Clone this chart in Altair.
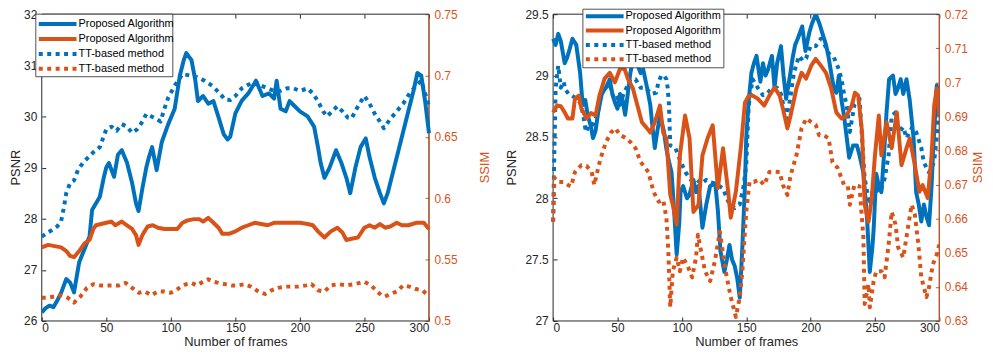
import altair as alt
import pandas as pd

FONT = "Liberation Sans"
DARK = "#262626"
BLUE = "#0072BD"
ORANGE = "#D95319"
DOT = [4, 4.5]
LW = 4

X_TICKS = [0, 50, 100, 150, 200, 250, 300]
LEGEND_LABELS = ["Proposed Algorithm", "Proposed Algorithm", "TT-based method", "TT-based method"]
LEGEND_COLORS = [BLUE, ORANGE, BLUE, ORANGE]
LEGEND_DOTTED = [False, False, True, True]

# ---------------- left panel ----------------
L_PSNR_TICKS = [26, 27, 28, 29, 30, 31, 32]
L_SSIM_TICKS = [0.5, 0.55, 0.6, 0.65, 0.7, 0.75]

L_PROP_PSNR_T = [0, 3, 6, 9, 12, 15, 19, 22, 25, 29, 33, 37, 39, 45, 48, 50, 52, 56, 59, 62, 66, 70, 73, 75, 78, 81, 83, 85.5, 89, 93, 98, 103, 107, 110, 112, 116, 119, 121, 125, 129, 133, 137, 141, 144, 146, 150, 155, 160, 166, 171, 176, 180, 182, 185, 189, 192, 196, 200, 206, 211, 214, 216, 219, 223, 228, 232, 236, 239, 243, 247, 251, 254, 258, 262, 265, 268, 272, 276, 280, 284, 288, 291, 294, 297, 300]
L_PROP_PSNR_V = [26.17, 26.25, 26.3, 26.27, 26.4, 26.55, 26.82, 26.75, 26.56, 27.15, 27.4, 27.65, 28.17, 28.43, 28.8, 29.0, 29.09, 28.82, 29.25, 29.34, 29.1, 28.7, 28.3, 28.15, 28.6, 29.0, 29.2, 29.4, 28.95, 29.5, 29.85, 30.15, 30.8, 31.1, 31.24, 31.1, 30.7, 30.3, 30.4, 30.25, 30.3, 29.98, 29.65, 29.55, 29.6, 30.06, 30.31, 30.45, 30.7, 30.4, 30.45, 30.35, 30.7, 30.15, 30.1, 30.3, 30.2, 30.1, 30.0, 29.8, 29.4, 29.1, 28.8, 29.0, 29.34, 29.1, 28.8, 28.5, 29.0, 29.4, 29.57, 29.2, 28.8, 28.5, 28.3, 28.5, 28.9, 29.3, 29.7, 30.1, 30.5, 30.85, 30.8, 30.3, 29.67]

L_TT_PSNR_T = [0, 4, 8, 12, 15, 17, 19, 22, 25, 28, 32, 36, 40, 45, 50, 54, 58, 62, 66, 70, 74, 78, 81, 85, 89, 92, 95, 98, 103, 109, 115, 120, 126, 132, 138, 142, 146, 150, 155, 160, 165, 170, 175, 180, 185, 190, 195, 200, 206, 210, 214, 218, 221, 225, 229, 233, 237, 240, 245, 250, 254, 258, 262, 265, 270, 275, 280, 285, 290, 294, 297, 300]
L_TT_PSNR_V = [27.65, 27.72, 27.78, 27.85, 27.95, 28.2, 28.5, 28.7, 28.75, 28.95, 29.1, 29.2, 29.3, 29.4, 29.75, 29.8, 29.72, 29.85, 29.8, 29.68, 29.75, 29.9, 30.05, 30.0, 29.95, 29.9, 30.15, 30.37, 30.6, 30.83, 30.8, 30.77, 30.7, 30.6, 30.45, 30.33, 30.32, 30.4, 30.55, 30.62, 30.68, 30.6, 30.55, 30.5, 30.5, 30.55, 30.55, 30.5, 30.55, 30.45, 30.3, 30.1, 30.0, 30.1, 30.2, 30.1, 29.98, 29.96, 30.2, 30.4, 30.25, 30.05, 29.9, 29.77, 29.95, 30.1, 30.25, 30.45, 30.6, 30.7, 30.45, 30.2]

L_PROP_SSIM_T = [0, 5, 10, 15, 19, 22, 25, 29, 33, 37, 40, 42, 46, 50, 54, 57, 62, 66, 70, 73, 75, 78, 82, 86, 90, 95, 100, 105, 109, 113, 118, 122, 125, 129, 133, 137, 140, 145, 150, 155, 160, 165, 170, 175, 180, 185, 190, 195, 200, 206, 210, 214, 219, 224, 229, 233, 236, 240, 245, 250, 254, 258, 262, 266, 270, 275, 279, 284, 290, 296, 300]
L_PROP_SSIM_V = [0.56, 0.562, 0.561, 0.56, 0.557, 0.553, 0.552, 0.557, 0.563, 0.566, 0.575, 0.578, 0.579, 0.58, 0.581, 0.578, 0.581, 0.578, 0.575, 0.57, 0.562, 0.57, 0.577, 0.578, 0.576, 0.575, 0.575, 0.575, 0.58, 0.582, 0.583, 0.583, 0.581, 0.584, 0.58, 0.576, 0.571, 0.571, 0.573, 0.576, 0.578, 0.58, 0.579, 0.578, 0.58, 0.58, 0.58, 0.58, 0.58, 0.579, 0.578, 0.573, 0.568, 0.573, 0.576, 0.572, 0.566, 0.567, 0.568, 0.576, 0.578, 0.576, 0.579, 0.576, 0.577, 0.58, 0.578, 0.578, 0.58, 0.58, 0.575]

L_TT_SSIM_T = [0, 5, 10, 15, 20, 25, 30, 35, 40, 45, 50, 55, 60, 65, 70, 75, 80, 85, 90, 95, 100, 104, 108, 112, 116, 120, 125, 129, 133, 137, 142, 147, 152, 157, 162, 168, 173, 178, 183, 190, 199, 205, 209, 214, 219, 224, 230, 236, 242, 250, 255, 259, 263, 266, 270, 275, 280, 285, 290, 295, 300]
L_TT_SSIM_V = [0.519, 0.519, 0.52, 0.521, 0.519, 0.515, 0.52, 0.527, 0.53, 0.529, 0.529, 0.529, 0.529, 0.531, 0.527, 0.523, 0.524, 0.521, 0.524, 0.524, 0.523, 0.525, 0.528, 0.53, 0.531, 0.529, 0.532, 0.534, 0.532, 0.531, 0.53, 0.529, 0.529, 0.53, 0.528, 0.524, 0.522, 0.525, 0.527, 0.528, 0.528, 0.529, 0.53, 0.525, 0.524, 0.529, 0.53, 0.529, 0.53, 0.532, 0.529, 0.525, 0.521, 0.52, 0.522, 0.524, 0.529, 0.528, 0.526, 0.525, 0.52]

# ---------------- right panel ----------------
R_PSNR_TICKS = [27, 27.5, 28, 28.5, 29, 29.5]
R_SSIM_TICKS = [0.63, 0.64, 0.65, 0.66, 0.67, 0.68, 0.69, 0.7, 0.71, 0.72]

R_PROP_PSNR_T = [0, 2, 4, 6, 9, 11, 13, 15, 18, 21, 23, 25, 27, 29, 31, 33, 35, 38, 41, 44, 46, 48, 50, 52, 54, 56, 58, 60, 63, 65, 68, 70, 73, 75.5, 77, 79, 81, 83, 86, 88, 90, 92, 94, 96, 98, 99, 101, 104, 106, 109, 111, 113, 116, 119, 122, 126, 128, 130, 133, 135, 137, 139, 141, 143, 145, 147, 149, 150, 152, 154, 156, 158, 161, 163, 165, 167, 170, 172, 174, 177, 179, 181, 184, 186, 188, 190, 193.5, 196, 199, 201, 204, 207, 209, 212, 214, 216, 218, 220, 222, 224, 226, 228, 230, 233, 236, 238, 241, 243, 244, 246, 248, 249, 251, 253, 255, 257, 259, 261, 264, 266, 268, 270, 272, 274.5, 277, 280, 282, 284, 286, 288, 290, 292, 294, 295, 298, 300]
R_PROP_PSNR_V = [29.3, 29.25, 29.34, 29.28, 29.1, 29.15, 29.22, 29.3, 29.25, 29.02, 28.76, 28.8, 28.67, 28.6, 28.49, 28.55, 28.7, 28.86, 28.9, 28.97, 28.85, 28.78, 28.73, 28.85, 28.8, 28.68, 28.85, 29.02, 29.18, 29.1, 29.02, 29.05, 28.9, 28.76, 28.6, 28.41, 28.55, 28.67, 28.55, 28.4, 28.3, 28.21, 27.9, 27.54, 27.8, 28.05, 28.1, 28.0, 28.03, 28.15, 28.05, 28.1, 27.76, 27.95, 28.1, 28.12, 27.9, 27.57, 27.4, 27.5, 27.62, 27.5, 27.45, 27.35, 27.19, 27.6, 28.1, 28.49, 28.8, 29.02, 29.1, 29.16, 28.95, 29.1, 29.0, 29.05, 29.16, 28.9, 29.1, 29.24, 29.0, 28.81, 29.0, 29.14, 29.25, 29.3, 29.4, 29.2, 29.35, 29.42, 29.5, 29.42, 29.35, 29.25, 29.15, 29.02, 28.9, 28.86, 29.0, 28.8, 28.67, 28.5, 28.33, 28.43, 28.43, 28.35, 28.21, 27.95, 27.81, 27.4, 27.6, 27.75, 28.2, 28.1, 28.05, 28.35, 28.7, 28.97, 29.0, 28.85, 28.9, 28.97, 28.85, 28.97, 28.8, 28.49, 28.05, 27.95, 27.81, 27.95, 27.85, 27.78, 28.1, 28.35, 28.92, 28.7]

R_TT_PSNR_T = [0, 1, 2, 4, 6, 8, 10, 12, 14, 17, 21, 23, 25.5, 28, 31, 33, 35, 37, 41, 44, 46, 48, 50, 52, 55, 57, 60, 64, 68, 72, 76, 80, 82, 84, 86, 88, 89, 90, 91, 95, 99, 103, 107, 111, 115, 119, 122, 126, 129, 132, 135, 137, 141, 145, 148, 150, 152, 155, 159, 163, 166, 170, 174, 177, 181, 184, 187, 191, 194, 196.5, 200, 204, 208, 211, 214, 218, 222, 224, 226, 228, 230.5, 234, 238, 240, 242, 244, 246, 248, 250, 254, 257.5, 260.6, 263, 266, 269, 272, 274.5, 279, 282, 286, 288, 292, 294, 296, 298, 300]
R_TT_PSNR_V = [27.81, 28.4, 28.9, 29.08, 28.9, 28.95, 28.88, 28.85, 28.84, 28.82, 28.78, 28.7, 28.54, 28.6, 28.6, 28.65, 28.7, 28.84, 28.9, 28.94, 28.85, 28.8, 28.82, 28.76, 28.86, 28.9, 28.97, 28.97, 28.9, 28.9, 28.85, 28.86, 28.95, 29.0, 29.0, 28.97, 28.9, 28.76, 28.43, 28.41, 28.3, 28.21, 28.15, 28.16, 28.12, 28.15, 28.13, 28.12, 28.1, 28.08, 28.0, 27.95, 27.92, 27.95, 28.1, 28.27, 28.76, 28.97, 28.9, 28.84, 28.85, 28.9, 28.9, 28.85, 28.65, 28.8, 29.02, 29.16, 29.12, 29.14, 29.24, 29.24, 29.3, 29.25, 29.18, 29.15, 29.05, 28.97, 28.85, 28.76, 28.54, 28.76, 28.81, 28.49, 28.16, 28.05, 27.95, 28.05, 28.08, 28.05, 28.16, 28.35, 28.67, 28.7, 28.54, 28.58, 28.49, 28.58, 28.54, 28.41, 28.29, 28.21, 28.25, 28.3, 28.5, 28.85]

R_PROP_SSIM_T = [0, 3, 6, 9, 11.5, 15, 17, 20, 22, 26, 29.5, 33, 36, 40, 44, 48, 52, 55.5, 58, 62, 65.5, 69, 73, 75.5, 79, 83, 85.5, 88, 91, 93, 96, 98.5, 102.5, 106, 109, 113, 116, 120, 124, 128, 132, 136, 138, 142, 146, 149, 152, 155, 159, 164, 168, 172, 176, 178.5, 182, 184.5, 189, 193, 196.5, 200.5, 204, 208, 212, 216, 220, 222, 224, 228, 232, 234.5, 237, 240, 242, 245, 247.5, 250, 253, 255, 259, 263, 267, 270.6, 274.5, 277, 281, 284.5, 287, 291, 294, 296, 298, 300]
R_PROP_SSIM_V = [0.6912, 0.6932, 0.693, 0.6912, 0.6894, 0.6894, 0.6952, 0.6961, 0.6923, 0.6894, 0.691, 0.6903, 0.6961, 0.7011, 0.7028, 0.7, 0.704, 0.704, 0.7011, 0.6982, 0.6932, 0.6883, 0.6865, 0.6853, 0.6883, 0.6932, 0.6853, 0.6836, 0.667, 0.664, 0.6583, 0.6786, 0.6903, 0.6836, 0.662, 0.6641, 0.6786, 0.6836, 0.6874, 0.669, 0.6807, 0.668, 0.6603, 0.668, 0.6815, 0.694, 0.6961, 0.6961, 0.6952, 0.6932, 0.6961, 0.6985, 0.6961, 0.6923, 0.6865, 0.6903, 0.6982, 0.7028, 0.7011, 0.7049, 0.7069, 0.7049, 0.7028, 0.6982, 0.6912, 0.6903, 0.6894, 0.6903, 0.6932, 0.697, 0.6961, 0.6853, 0.6641, 0.6591, 0.6661, 0.6786, 0.6903, 0.6786, 0.6883, 0.6807, 0.6912, 0.6757, 0.6807, 0.6836, 0.6757, 0.6679, 0.6699, 0.6661, 0.6786, 0.6932, 0.6982, 0.6903]

R_TT_SSIM_T = [0, 1, 4, 8, 11.5, 14, 17, 20, 22, 26, 30, 32, 35, 37, 41, 45, 48.5, 52, 56, 60, 64, 68, 70, 74, 78, 82, 85.5, 88, 89.5, 91, 93, 96, 98.5, 101, 105, 108, 111, 112.5, 115, 118, 122, 125.6, 129.5, 134, 138, 142, 145, 147, 148, 150, 152.6, 156, 160, 164, 168, 172, 176, 178.5, 182, 184.5, 189, 193, 196.6, 200, 204, 206.6, 210, 214, 217, 221, 226, 229, 230.5, 234, 238, 241, 242, 245, 246, 249, 251, 255, 257.5, 260.6, 263, 266, 268, 272, 276, 278.5, 281, 283.7, 286, 290, 292, 295, 298, 300]
R_TT_SSIM_V = [0.6591, 0.672, 0.6708, 0.6708, 0.6699, 0.6695, 0.6737, 0.6749, 0.6757, 0.6755, 0.6737, 0.6699, 0.6749, 0.6778, 0.6824, 0.6853, 0.6865, 0.6845, 0.6838, 0.6825, 0.6807, 0.6766, 0.6757, 0.6737, 0.6679, 0.665, 0.6655, 0.6603, 0.6504, 0.6341, 0.6446, 0.6486, 0.6446, 0.6486, 0.6457, 0.6428, 0.6486, 0.6553, 0.6504, 0.6446, 0.6417, 0.6475, 0.6562, 0.6446, 0.637, 0.6312, 0.637, 0.6446, 0.6504, 0.662, 0.6708, 0.6708, 0.6715, 0.6699, 0.6737, 0.6738, 0.6737, 0.6699, 0.667, 0.6728, 0.6786, 0.6865, 0.6894, 0.6885, 0.6875, 0.6845, 0.6845, 0.6836, 0.6766, 0.6749, 0.6699, 0.6695, 0.6641, 0.6699, 0.6695, 0.6545, 0.635, 0.6408, 0.634, 0.6417, 0.6446, 0.6446, 0.6428, 0.6524, 0.662, 0.6583, 0.6516, 0.6486, 0.6583, 0.6641, 0.6612, 0.6524, 0.6428, 0.637, 0.6399, 0.6466, 0.6495, 0.6524]

# ---------------- geometry (pixels inside the single plot area) ----------------
PW_L = 390          # left panel width
XR = 515            # right panel left edge
TOTAL_W = 904       # right panel right edge
H = 309

DUMMY = pd.DataFrame({"d": [0]})


def series_df(t, v):
    return pd.DataFrame({"t": t, "v": v})


def line(df, color, dotted, x_enc, y_enc):
    kw = dict(color=color, strokeWidth=LW, clip=True, strokeJoin="round")
    if dotted:
        kw["strokeDash"] = DOT
    return alt.Chart(df).mark_line(**kw).encode(x=x_enc, y=y_enc)


def legend_layers(x0, y0, w, h, sym_x, text_x, rows):
    layers = [
        alt.Chart(DUMMY).mark_rect(fill="white", stroke=DARK, strokeWidth=0.8).encode(
            x=alt.value(x0), x2=alt.value(x0 + w), y=alt.value(y0), y2=alt.value(y0 + h)
        )
    ]
    for i, (lab, col, dotted) in enumerate(zip(LEGEND_LABELS, LEGEND_COLORS, LEGEND_DOTTED)):
        yy = y0 + rows[i]
        kw = dict(color=col, strokeWidth=LW)
        if dotted:
            kw["strokeDash"] = DOT
        layers.append(
            alt.Chart(DUMMY).mark_rule(**kw).encode(
                x=alt.value(sym_x[0]), x2=alt.value(sym_x[1]), y=alt.value(yy)
            )
        )
        layers.append(
            alt.Chart(DUMMY).mark_text(align="left", baseline="middle", font=FONT, fontSize=11, color="black").encode(
                x=alt.value(text_x), y=alt.value(yy), text=alt.value(lab)
            )
        )
    return layers


def axis_title(text, x, color):
    return alt.Chart(DUMMY).mark_text(
        angle=270, align="center", baseline="middle", font=FONT, fontSize=13, color=color
    ).encode(x=alt.value(x), y=alt.value(H / 2), text=alt.value(text))


def panel_groups(x0, x1, psnr_dom, psnr_ticks, ssim_dom, ssim_ticks, series,
                 psnr_axis_offset, psnr_label_pad, ssim_axis_offset):
    xs = alt.Scale(domain=[0, 300], range=[x0, x1], nice=False, zero=False)
    x_bottom = alt.X(
        "t:Q", scale=xs,
        axis=alt.Axis(orient="bottom", values=X_TICKS, offset=-4, tickSize=4, domain=False,
                      grid=False, labelPadding=2, title="Number of frames", titlePadding=2,
                      tickColor=DARK, labelColor=DARK, titleColor=DARK),
    )
    x_top = alt.X(
        "t:Q", scale=xs,
        axis=alt.Axis(orient="top", values=X_TICKS, offset=-4, tickSize=4, domain=False,
                      grid=False, labels=False, title=None, tickColor=DARK),
    )
    y_left = alt.Y(
        "v:Q", scale=alt.Scale(domain=psnr_dom, nice=False, zero=False),
        axis=alt.Axis(orient="left", values=psnr_ticks, offset=psnr_axis_offset, tickSize=4,
                      domain=False, grid=False, labelPadding=psnr_label_pad, title=None,
                      minExtent=0, format="~g",
                      tickColor=DARK, labelColor=DARK),
    )
    y_right = alt.Y(
        "v:Q", scale=alt.Scale(domain=ssim_dom, nice=False, zero=False),
        axis=alt.Axis(orient="right", values=ssim_ticks, offset=ssim_axis_offset, tickSize=4,
                      domain=False, grid=False, labelPadding=5, title=None,
                      minExtent=0, format="~g", tickColor=ORANGE, labelColor=ORANGE),
    )
    pp, tp, ps, ts = series
    psnr_group = alt.layer(
        line(series_df(*pp), BLUE, False, x_bottom, y_left),
        line(series_df(*tp), BLUE, True, x_bottom, y_left),
    )
    ssim_group = alt.layer(
        line(series_df(*ps), ORANGE, False, x_top, y_right),
        line(series_df(*ts), ORANGE, True, x_top, y_right),
    )
    return psnr_group, ssim_group


def frame(x0, x1):
    box = alt.Chart(DUMMY).mark_rect(stroke=DARK, strokeWidth=1, fillOpacity=0).encode(
        x=alt.value(x0), x2=alt.value(x1), y=alt.value(0), y2=alt.value(H)
    )
    edge = alt.Chart(DUMMY).mark_rule(color=ORANGE, strokeWidth=1).encode(
        x=alt.value(x1), y=alt.value(0), y2=alt.value(H)
    )
    return [box, edge]


l_psnr, l_ssim = panel_groups(
    0, PW_L, [26, 32], L_PSNR_TICKS, [0.5, 0.75], L_SSIM_TICKS,
    ((L_PROP_PSNR_T, L_PROP_PSNR_V), (L_TT_PSNR_T, L_TT_PSNR_V),
     (L_PROP_SSIM_T, L_PROP_SSIM_V), (L_TT_SSIM_T, L_TT_SSIM_V)),
    -4, 5, -(TOTAL_W - PW_L) - 4,
)
r_psnr, r_ssim = panel_groups(
    XR, TOTAL_W, [27, 29.5], R_PSNR_TICKS, [0.63, 0.72], R_SSIM_TICKS,
    ((R_PROP_PSNR_T, R_PROP_PSNR_V), (R_TT_PSNR_T, R_TT_PSNR_V),
     (R_PROP_SSIM_T, R_PROP_SSIM_V), (R_TT_SSIM_T, R_TT_SSIM_V)),
    -(XR + 4), 5, -4,
)

layers = (
    frame(0, PW_L) + frame(XR, TOTAL_W)
    + [l_psnr, l_ssim, r_psnr, r_ssim]
    + [axis_title("PSNR", -26, DARK), axis_title("SSIM", 446, ORANGE),
       axis_title("PSNR", 473.5, DARK), axis_title("SSIM", 943, ORANGE)]
    + legend_layers(-6, 0, 138, 63, (-3, 35), 37, [10, 25, 40, 55])
    + legend_layers(XR + 30, -5, 142, 59, (XR + 33, XR + 71), XR + 73, [7, 21.5, 36, 50.5])
)

chart = (
    alt.layer(*layers)
    .resolve_scale(x="independent", y="independent")
    .resolve_axis(x="independent", y="independent")
    .properties(width=TOTAL_W, height=H,
                padding={"left": 2, "top": -1, "right": 0, "bottom": 0})
    .configure(background="white")
    .configure_view(strokeWidth=0)
    .configure_axis(labelFont=FONT, titleFont=FONT, labelFontSize=12, titleFontSize=13,
                    titleFontWeight="normal")
)

chart.save("out.html", embed_options={"renderer": "svg", "actions": False})
